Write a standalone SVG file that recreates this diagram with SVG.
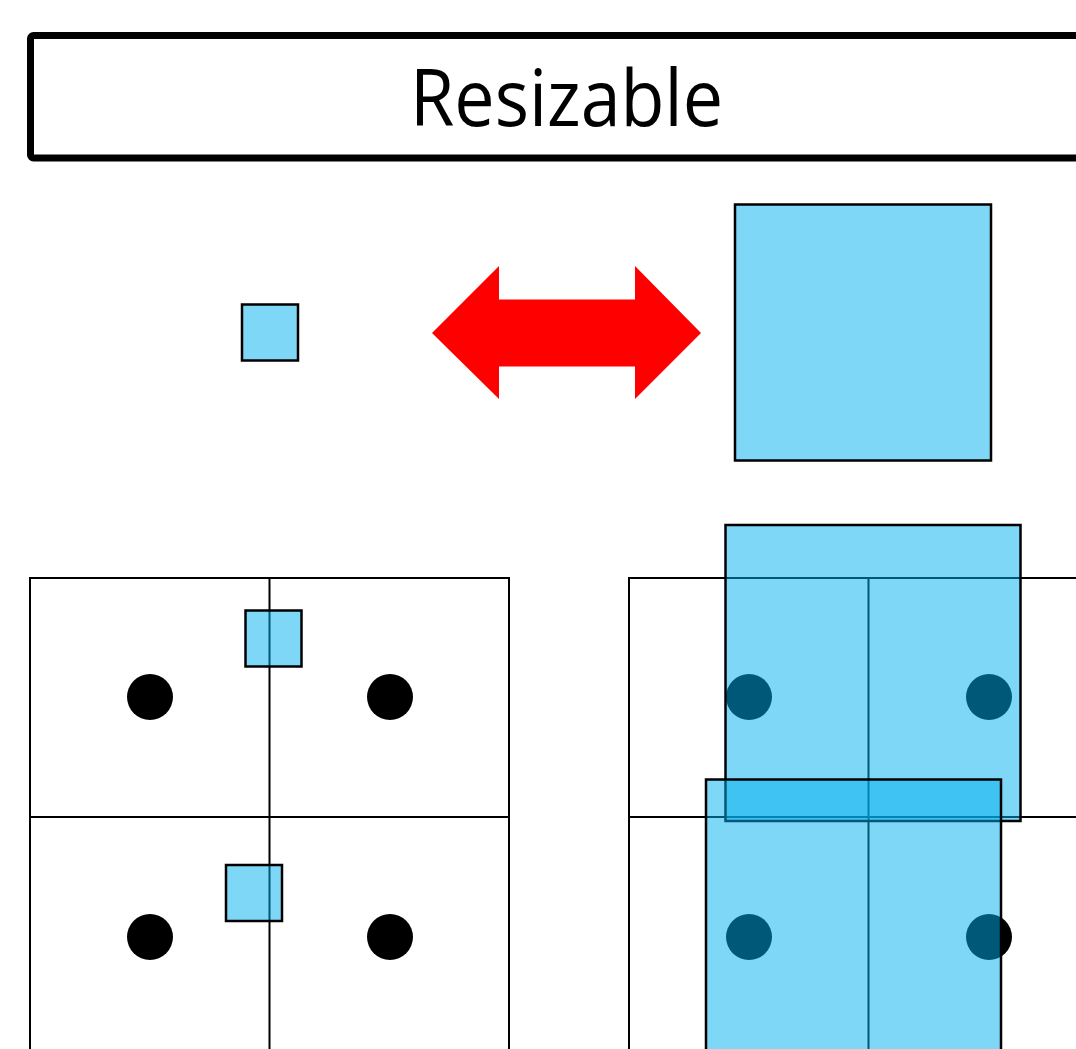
<svg xmlns="http://www.w3.org/2000/svg" width="1076" height="1049" viewBox="0 0 1076 1049">
  <style>
    .grid { fill: none; stroke: #000; stroke-width: 2; }
    .blue { fill: #00b0f0; fill-opacity: 0.5; stroke: #000; stroke-width: 2.5; }
    .dot { fill: #000; }
    .title { font-family: "Open Sans", "Liberation Sans", sans-serif; font-size: 78px; fill: #000; }
  </style>
  <rect width="1076" height="1049" fill="#fff"/>
  <g id="title">
    <rect x="30.5" y="35.5" width="1100" height="122.5" rx="3" fill="#fff" stroke="#000" stroke-width="7"/>
    <text class="title" x="410" y="126" textLength="313" lengthAdjust="spacingAndGlyphs">Resizable</text>
  </g>
  <g id="small-square">
    <rect class="blue" x="242" y="304.5" width="56" height="56"/>
  </g>
  <g id="arrow">
    <polygon points="432,333 499,266 499,299.5 635,299.5 635,266 701,333 635,399 635,366.5 499,366.5 499,399" fill="#ff0000"/>
  </g>
  <g id="big-square">
    <rect class="blue" x="735" y="204.5" width="256" height="256"/>
  </g>
  <g id="left-grid">
    <rect class="grid" x="30" y="578" width="479" height="520"/>
    <line class="grid" x1="30" y1="817" x2="509" y2="817"/>
    <line class="grid" x1="269.5" y1="578" x2="269.5" y2="1060"/>
    <circle class="dot" cx="150" cy="697" r="23"/>
    <circle class="dot" cx="390" cy="697" r="23"/>
    <circle class="dot" cx="150" cy="937" r="23"/>
    <circle class="dot" cx="390" cy="937" r="23"/>
    <rect class="blue" x="245.5" y="610.5" width="56" height="56"/>
    <rect class="blue" x="226" y="865" width="56" height="56"/>
  </g>
  <g id="right-grid">
    <rect class="grid" x="629" y="578" width="479" height="520"/>
    <line class="grid" x1="629" y1="817" x2="1100" y2="817"/>
    <line class="grid" x1="868.5" y1="578" x2="868.5" y2="1060"/>
    <circle class="dot" cx="749" cy="697" r="23"/>
    <circle class="dot" cx="989" cy="697" r="23"/>
    <circle class="dot" cx="749" cy="937" r="23"/>
    <circle class="dot" cx="989" cy="937" r="23"/>
    <rect class="blue" x="725.5" y="525" width="295" height="296"/>
    <rect class="blue" x="706" y="779.5" width="295" height="300"/>
  </g>
</svg>
